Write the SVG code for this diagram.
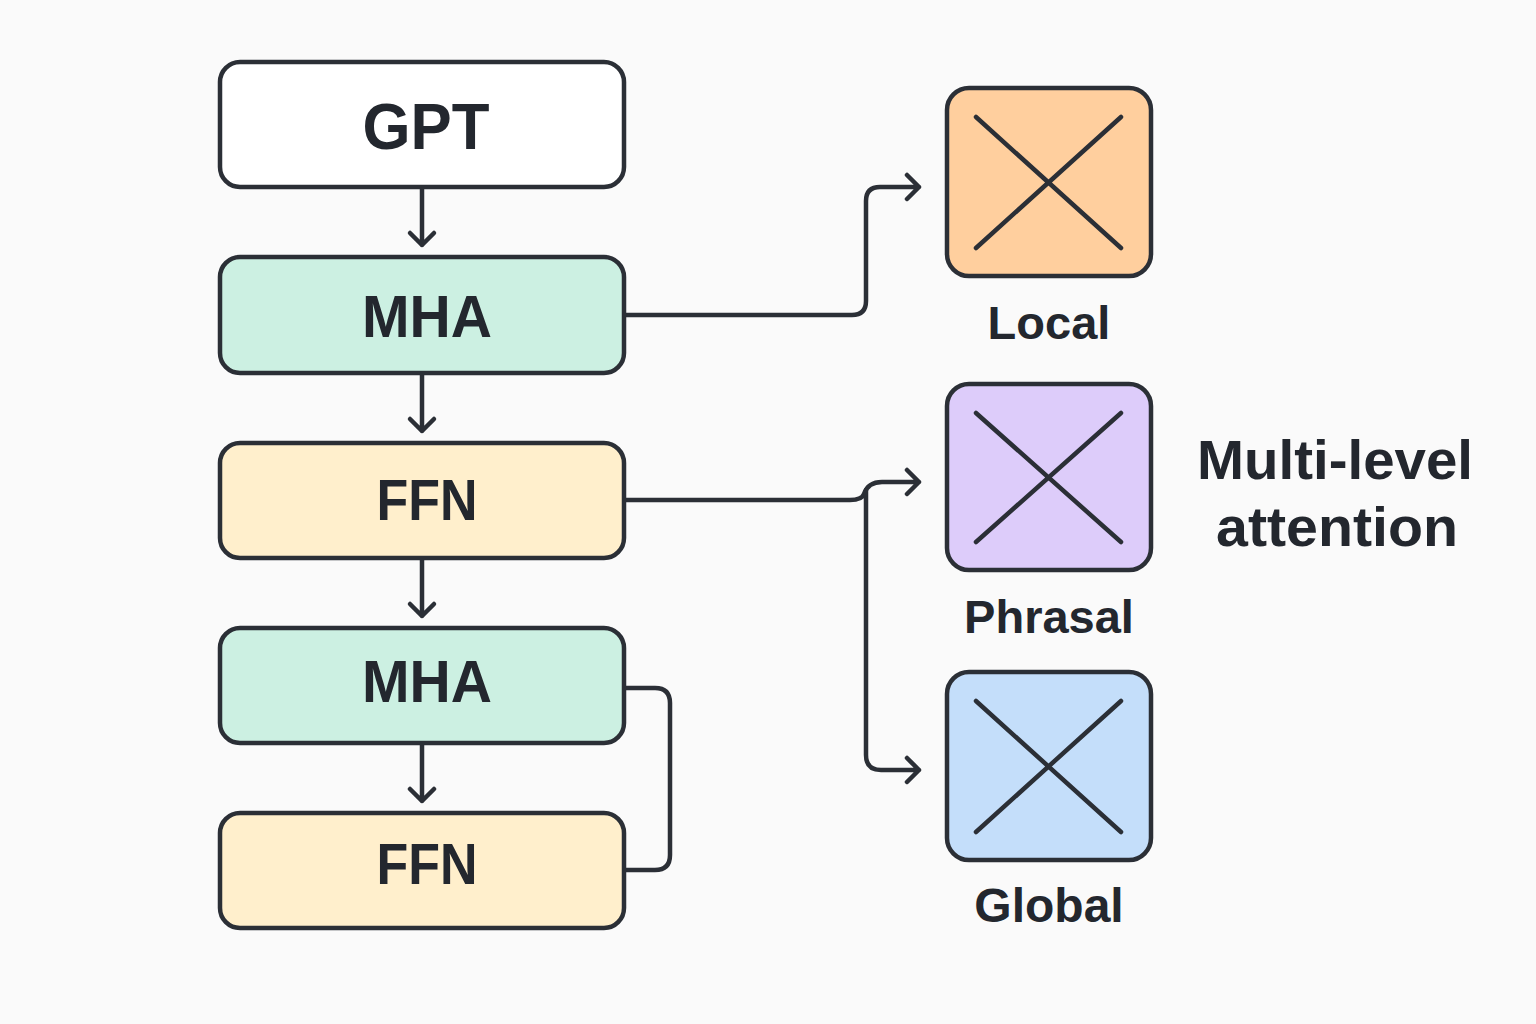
<svg xmlns="http://www.w3.org/2000/svg" width="1536" height="1024" viewBox="0 0 1536 1024">
<style>
.box{stroke:#2B2F36;stroke-width:4.5}
.ln{fill:none;stroke:#2B2F36;stroke-width:4.5;stroke-linecap:round;stroke-linejoin:round}
.x{fill:none;stroke:#2B2F36;stroke-width:4.5;stroke-linecap:round}
.t{font-family:"Liberation Sans",Arial,sans-serif;font-weight:700;fill:#23272E;text-anchor:middle}
</style>
<rect width="1536" height="1024" fill="#FAFAFA"/>
<g id="connectors">
<path class="ln" d="M422,189 V245 M410,233 L422,245 L434,233"/>
<path class="ln" d="M422,375 V431 M410,419 L422,431 L434,419"/>
<path class="ln" d="M422,560 V616 M410,604 L422,616 L434,604"/>
<path class="ln" d="M422,745 V801 M410,789 L422,801 L434,789"/>
<path class="ln" d="M626,315 H852 Q866,315 866,301 V201 Q866,187 880,187 H919 M907,175 L919,187 L907,199"/>
<path class="ln" d="M626,500 H850 Q862,500 864,494 Q868,482 882,482 H919 M907,470 L919,482 L907,494"/>
<path class="ln" d="M866,490 V755 Q866,770 881,770 H919 M907,758 L919,770 L907,782"/>
<path class="ln" d="M626,688 H655 Q670,688 670,703 V855 Q670,870 655,870 H626"/>
</g>
<g id="gpt">
<rect class="box" x="220" y="62" width="404" height="125" rx="20" fill="#FFFFFF"/>
<text class="t" x="426" y="149" font-size="64" textLength="127" lengthAdjust="spacingAndGlyphs">GPT</text>
</g>
<g id="mha1">
<rect class="box" x="220" y="257" width="404" height="116" rx="20" fill="#CCF0E2"/>
<text class="t" x="427" y="337" font-size="60" textLength="130" lengthAdjust="spacingAndGlyphs">MHA</text>
</g>
<g id="ffn1">
<rect class="box" x="220" y="443" width="404" height="115" rx="20" fill="#FFEFCC"/>
<text class="t" x="427" y="520" font-size="58" textLength="101" lengthAdjust="spacingAndGlyphs">FFN</text>
</g>
<g id="mha2">
<rect class="box" x="220" y="628" width="404" height="115" rx="20" fill="#CCF0E2"/>
<text class="t" x="427" y="702" font-size="60" textLength="130" lengthAdjust="spacingAndGlyphs">MHA</text>
</g>
<g id="ffn2">
<rect class="box" x="220" y="813" width="404" height="115" rx="20" fill="#FFEFCC"/>
<text class="t" x="427" y="884" font-size="58" textLength="101" lengthAdjust="spacingAndGlyphs">FFN</text>
</g>
<g id="local">
<rect class="box" x="947" y="88" width="204" height="188" rx="22" fill="#FFCF9E"/>
<path class="x" d="M976,117 L1121,248 M1121,117 L976,248"/>
<text class="t" x="1049" y="339" font-size="47">Local</text>
</g>
<g id="phrasal">
<rect class="box" x="947" y="384" width="204" height="186" rx="22" fill="#DDCCFA"/>
<path class="x" d="M976,413 L1121,542 M1121,413 L976,542"/>
<text class="t" x="1049" y="633" font-size="47">Phrasal</text>
</g>
<g id="global">
<rect class="box" x="947" y="672" width="204" height="188" rx="22" fill="#C4DEFA"/>
<path class="x" d="M976,701 L1121,832 M1121,701 L976,832"/>
<text class="t" x="1049" y="922" font-size="48">Global</text>
</g>
<g id="caption">
<text class="t" x="1335" y="479" font-size="55" textLength="276" lengthAdjust="spacingAndGlyphs">Multi-level</text>
<text class="t" x="1337" y="546" font-size="55" textLength="242" lengthAdjust="spacingAndGlyphs">attention</text>
</g>
</svg>
